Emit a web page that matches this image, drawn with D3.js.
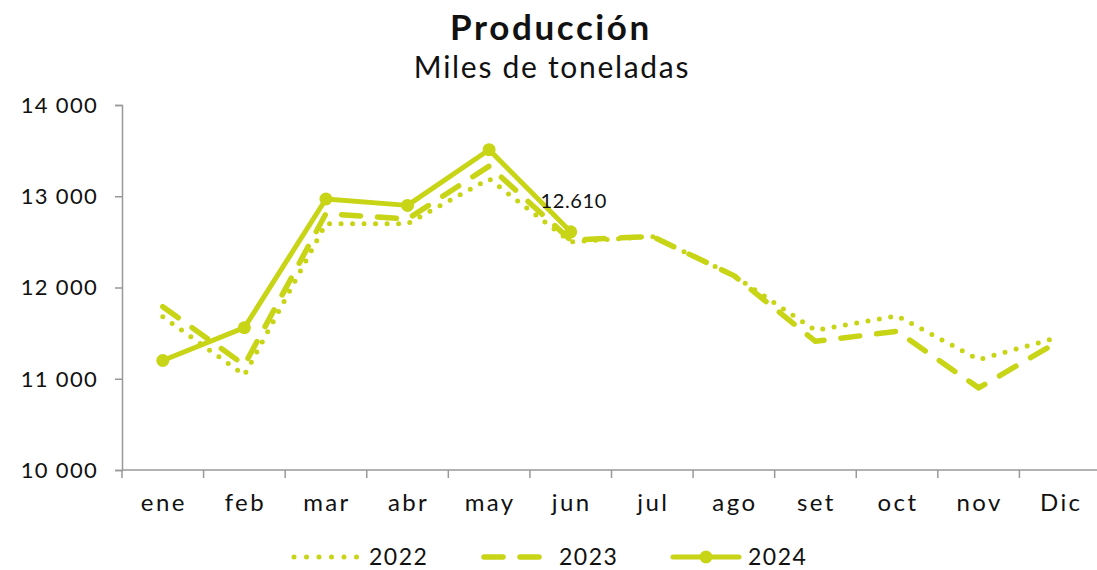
<!DOCTYPE html>
<html>
<head>
<meta charset="utf-8">
<script src="https://cdn.jsdelivr.net/npm/d3@7"></script>
<style>
  html, body { margin: 0; padding: 0; background: #fff; }
  svg { display: block; font-family: Lato, "Open Sans", sans-serif; }
</style>
</head>
<body>
<svg id="chart" width="1097" height="570"></svg>
<script>
// Producción — miles de toneladas, 2022–2024
const months = ['ene', 'feb', 'mar', 'abr', 'may', 'jun', 'jul', 'ago', 'set', 'oct', 'nov', 'Dic'];
const values2022 = [11680, 11040, 12700, 12700, 13190, 12500, 12560, 12130, 11530, 11690, 11210, 11460];
const values2023 = [11790, 11150, 12810, 12750, 13330, 12520, 12560, 12130, 11410, 11520, 10900, 11420];
const values2024 = [11200, 11560, 12970, 12900, 13510, 12610];
const yTicks = [10000, 11000, 12000, 13000, 14000];

const color = '#c8d416';
const svg = d3.select('#chart');

const margin = { top: 105, left: 122, bottom: 100 };
const plotRight = 1101;
const plotBottom = 470;

const x = d3.scaleBand().domain(months).range([margin.left, plotRight]);
const y = d3.scaleLinear().domain([10000, 14000]).range([plotBottom, margin.top]);
const cx = m => x(m) + x.bandwidth() / 2;

// ── Titles ────────────────────────────────────────────────────────────────
svg.append('text')
  .attr('x', 551).attr('y', 40)
  .attr('text-anchor', 'middle')
  .attr('font-size', 35).attr('font-weight', 'bold').attr('fill', '#111')
  .attr('letter-spacing', 2.6)
  .text('Producción');
svg.append('text')
  .attr('x', 552).attr('y', 78)
  .attr('text-anchor', 'middle')
  .attr('font-size', 30).attr('fill', '#111')
  .attr('letter-spacing', 1.7)
  .text('Miles de toneladas');

// ── Axes ──────────────────────────────────────────────────────────────────
const gy = svg.append('g')
  .attr('transform', `translate(${margin.left},0)`)
  .call(d3.axisLeft(y).tickValues(yTicks).tickSize(7).tickSizeOuter(7)
    .tickFormat(v => d3.format(',')(v).replace(',', ' ')));
gy.select('.domain').attr('stroke', '#999').attr('stroke-width', 1.5);
gy.selectAll('.tick line').attr('stroke', '#999').attr('stroke-width', 1.5);
gy.selectAll('.tick text')
  .attr('font-size', 22).attr('fill', '#111').attr('x', -24).attr('dy', '0.33em')
  .attr('letter-spacing', 1.3)
  .style('font-family', 'Lato, sans-serif');

const xTickScale = d3.scaleLinear().domain([0, months.length]).range([margin.left, plotRight]);
const gx = svg.append('g').attr('transform', `translate(0,${plotBottom})`);
gx.append('line')
  .attr('x1', margin.left).attr('x2', plotRight)
  .attr('stroke', '#999').attr('stroke-width', 1.5);
gx.selectAll('.xt').data(d3.range(months.length)).join('line')
  .attr('class', 'xt')
  .attr('x1', i => xTickScale(i)).attr('x2', i => xTickScale(i))
  .attr('y1', 0).attr('y2', 8)
  .attr('stroke', '#999').attr('stroke-width', 1.5);
gx.selectAll('.xl').data(months).join('text')
  .attr('class', 'xl')
  .attr('x', d => cx(d) + 1).attr('y', 41)
  .attr('text-anchor', 'middle')
  .attr('font-size', 24).attr('fill', '#111')
  .attr('letter-spacing', 2.4)
  .text(d => d);

// ── Series ────────────────────────────────────────────────────────────────
const line = d3.line().x((d, i) => cx(months[i])).y(d => y(d));

svg.append('path').datum(values2022)
  .attr('d', line).attr('fill', 'none')
  .attr('stroke', color).attr('stroke-width', 5)
  .attr('stroke-linecap', 'round').attr('stroke-linejoin', 'round')
  .attr('stroke-dasharray', '0 11.5');

svg.append('path').datum(values2023)
  .attr('d', line).attr('fill', 'none')
  .attr('stroke', color).attr('stroke-width', 5.5)
  .attr('stroke-linecap', 'round').attr('stroke-linejoin', 'round')
  .attr('stroke-dasharray', '19 17');

svg.append('path').datum(values2024)
  .attr('d', line).attr('fill', 'none')
  .attr('stroke', color).attr('stroke-width', 5)
  .attr('stroke-linejoin', 'round');
svg.selectAll('.pt').data(values2024).join('circle')
  .attr('class', 'pt')
  .attr('cx', (d, i) => cx(months[i])).attr('cy', d => y(d))
  .attr('r', 6.5).attr('fill', color);

// Last-value label
const last = values2024.length - 1;
svg.append('text')
  .attr('x', cx(months[last]) + 3).attr('y', y(values2024[last]) - 24)
  .attr('text-anchor', 'middle')
  .attr('font-size', 20).attr('fill', '#111')
  .attr('letter-spacing', 0.6)
  .text(d3.format(',')(values2024[last]).replace(',', '.'));

// ── Legend ────────────────────────────────────────────────────────────────
const legend = [
  { label: '2022', x: 294, dash: '0 12.5', w: 5, marker: false },
  { label: '2023', x: 484, dash: '19 17', w: 5.5, marker: false },
  { label: '2024', x: 673, dash: null, w: 5, marker: true },
];
const lg = svg.append('g').attr('transform', 'translate(0,557)');
legend.forEach(l => {
  lg.append('line')
    .attr('x1', l.x).attr('x2', l.x + 66)
    .attr('stroke', color).attr('stroke-width', l.w)
    .attr('stroke-linecap', 'round')
    .attr('stroke-dasharray', l.dash);
  if (l.marker) lg.append('circle').attr('cx', l.x + 33).attr('r', 6.5).attr('fill', color);
  lg.append('text')
    .attr('x', l.x + 75).attr('dy', '0.35em')
    .attr('font-size', 23).attr('fill', '#111')
    .attr('letter-spacing', 1.5)
    .text(l.label);
});
</script>
</body>
</html>
